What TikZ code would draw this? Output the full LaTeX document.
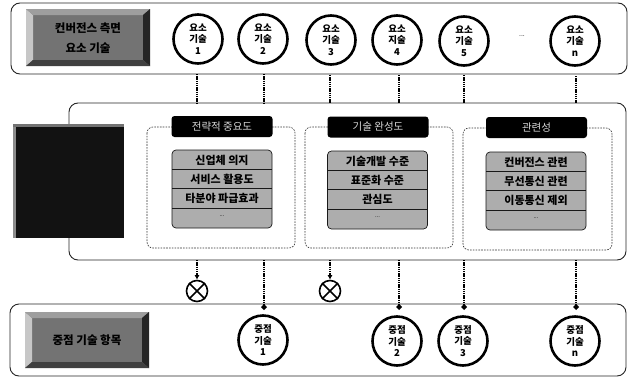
\documentclass[tikz,border=0pt]{standalone}
\usepackage{fontspec}
\setmainfont{Noto Sans CJK KR}
\usetikzlibrary{arrows.meta}
\definecolor{midg}{gray}{0.68}
\tikzset{
  x=1pt,y=-1pt,
  panel/.style={draw=black!85,line width=0.9pt,rounded corners=9pt,fill=white},
  dbox/.style={draw=black!80,dash pattern=on 1.6pt off 1.2pt,line width=0.6pt,rounded corners=6pt},
  tech/.style={circle,draw=black,line width=2.6pt,minimum size=49pt,inner sep=0pt,fill=white,align=center,font=\fontsize{9.5}{11.5}\selectfont\bfseries},
  head/.style={fill=black,rounded corners=3pt,minimum width=101pt,minimum height=21pt,inner sep=0pt,text=white!85!black,font=\fontsize{10.5}{12}\selectfont},
  itemtext/.style={inner sep=0pt,font=\fontsize{11}{12}\selectfont\bfseries},
  bannertext/.style={inner sep=0pt,align=center,font=\fontsize{11.5}{20}\selectfont\bfseries,text=black},
  link/.style={dash pattern=on 1.3pt off 0.9pt,line width=1.3pt},
  linkarrow/.style={link,-{Latex[length=4.5pt,width=5pt]}},
  linkdia/.style={link,-{Diamond[length=6pt,width=6pt]}},
  xmark/.style={circle,draw=black,line width=1.6pt,minimum size=21pt,inner sep=0pt,fill=white},
}
\newcommand{\bevel}[4]{% x1 y1 x2 y2
  \fill[black!55] (#1,#2) rectangle (#3,#4);
  \fill[black!22] (#1,#2) -- (#1+7,#2+6) -- (#1+7,#4-6) -- (#1,#4) -- cycle;
  \fill[black!38] (#1,#2) -- (#3,#2) -- (#3-7,#2+6) -- (#1+7,#2+6) -- cycle;
  \fill[black!85] (#3,#2) -- (#3,#4) -- (#3-7,#4-6) -- (#3-7,#2+6) -- cycle;
  \fill[black!75] (#1,#4) -- (#3,#4) -- (#3-7,#4-6) -- (#1+7,#4-6) -- cycle;
}
\begin{document}
\begin{tikzpicture}
\useasboundingbox (0,0) rectangle (631,380);
\fill[white] (0,0) rectangle (631,380);
% panels
\draw[panel] (11,3) rectangle (627,74);
\draw[panel] (69,103) rectangle (626,260);
\draw[panel] (10,304) rectangle (626,376);
% top row
\node[tech] (t1) at (198,39) {요소\\기술\\1};
\node[tech] (t2) at (263,39) {요소\\기술\\2};
\node[tech] (t3) at (331,40) {요소\\기술\\3};
\node[tech] (t4) at (397,40) {요소\\지술\\4};
\node[tech] (t5) at (464,41) {요소\\기술\\5};
\node[font=\fontsize{7}{8}\selectfont] (dots) at (522,36) {...};
\node[tech] (t6) at (575,41) {요소\\기술\\n};
\bevel{26}{9}{150}{66}
\node[bannertext] (topb) at (88,38) {컨버전스 측면\\요소 기술};
% connectors between top panel and middle panel
\coordinate (c1) at (197,74); \coordinate (c2) at (264,74); \coordinate (c3) at (330,75);
\coordinate (c4) at (399,75); \coordinate (c5) at (464,75); \coordinate (c6) at (576,76);
\coordinate (m1) at (197,103); \coordinate (m2) at (264,103); \coordinate (m3) at (330,103);
\coordinate (m4) at (399,103); \coordinate (m5) at (464,103); \coordinate (m6) at (576,103);
\foreach \a/\b in {c1/m1,c2/m2,c3/m3,c4/m4,c5/m5,c6/m6} \draw[link] (\a) -- (\b);
% left dark box
\node[fill=black!93,minimum width=111pt,minimum height=114pt,inner sep=0pt] (crit) at (68.5,181) {};
\fill[black!45] (13,124) rectangle (16,238);
\fill[black!55] (13,124) rectangle (124,127);
% dashed groups
\draw[dbox] (147,127) rectangle (295,248);
\draw[dbox] (305,127) rectangle (453,248);
\draw[dbox] (463,128) rectangle (612,250);
\node[head] (h1) at (222,126.5) {전략적 중요도};
\node[head] (h2) at (378,127) {기술 완성도};
\node[head] (h3) at (536.5,127.5) {관련성};
% item stacks
\foreach \x/\y/\p/\a/\b/\c in {222/150/g1/신업체 의지/서비스 활용도/타분야 파급효과,
  377.5/151/g2/기술개발 수준/표준화 수준/관심도,
  536/152/g3/컨버전스 관련/무선통신 관련/이동통신 제외}{
  \fill[midg,rounded corners=4pt] (\x-50,\y) rectangle (\x+50,\y+78);
  \draw[black!90,rounded corners=4pt,line width=0.7pt] (\x-50,\y) rectangle (\x+50,\y+78);
  \draw[black!90,line width=0.7pt] (\x-50,\y+19) -- (\x+50,\y+19) (\x-50,\y+38.5) -- (\x+50,\y+38.5) (\x-50,\y+58) -- (\x+50,\y+58);
  \node[itemtext] (\p a) at (\x,\y+10) {\a};
  \node[itemtext] (\p b) at (\x,\y+29) {\b};
  \node[itemtext] (\p c) at (\x,\y+48.5) {\c};
  \node[itemtext,font=\fontsize{6}{7}\selectfont] (\p d) at (\x,\y+66) {...};
}
% bottom row
\bevel{25}{312}{149}{368}
\node[bannertext] (botb) at (87,340) {중점 기술 항목};
\node[tech] (k1) at (263,340) {중점\\기술\\1};
\node[tech] (k2) at (397,341) {중점\\기술\\2};
\node[tech] (k3) at (463,341) {중점\\기술\\3};
\node[tech] (k4) at (575,341) {중점\\기술\\n};
\node[xmark] (x1) at (197,291) {};
\node[xmark] (x2) at (330,291) {};
\foreach \n in {x1,x2} \draw[line width=1.6pt] (\n.north west) -- (\n.south east) (\n.north east) -- (\n.south west);
\coordinate (b1) at (197,260); \coordinate (b2) at (264,260); \coordinate (b3) at (330,260);
\coordinate (b4) at (399,260); \coordinate (b5) at (464,260); \coordinate (b6) at (576,260);
\coordinate (e2) at (264,310); \coordinate (e4) at (399,310); \coordinate (e5) at (464,310); \coordinate (e6) at (576,310);
\draw[linkarrow] (b1) -- (x1.north);
\draw[linkarrow] (b3) -- (x2.north);
\foreach \a/\k in {b2/e2,b4/e4,b5/e5,b6/e6}{\draw[linkdia] (\a) -- (\k);}
\end{tikzpicture}
\end{document}
